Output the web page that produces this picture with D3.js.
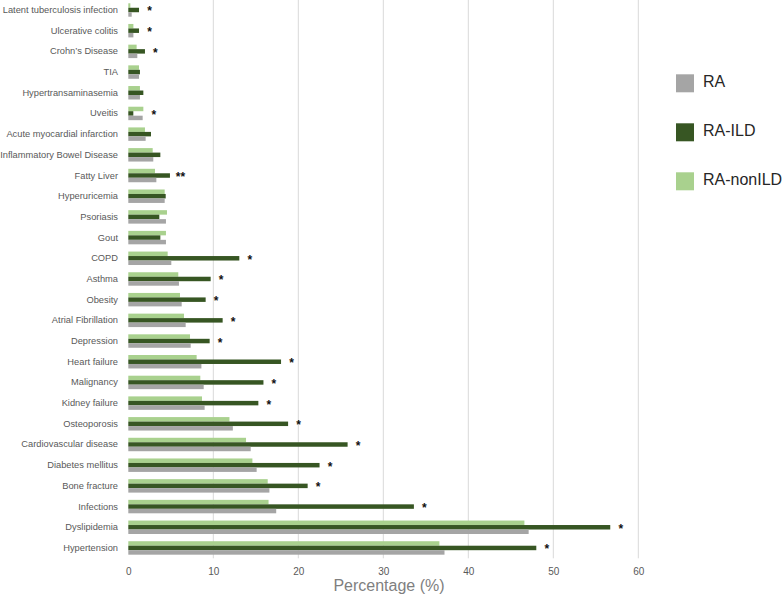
<!DOCTYPE html>
<html>
<head>
<meta charset="utf-8">
<script src="https://cdn.jsdelivr.net/npm/d3@7"></script>
<style>
  body { margin: 0; background: #fff; }
  svg { display: block; font-family: "Liberation Sans", Arial, sans-serif; }
</style>
</head>
<body>
<div id="chart"></div>
<script>
// categories, top to bottom
const categories = [
  "Latent tuberculosis infection", "Ulcerative colitis", "Crohn\u2019s Disease", "TIA",
  "Hypertransaminasemia", "Uveitis", "Acute myocardial infarction", "Inflammatory Bowel Disease",
  "Fatty Liver", "Hyperuricemia", "Psoriasis", "Gout", "COPD", "Asthma", "Obesity",
  "Atrial Fibrillation", "Depression", "Heart failure", "Malignancy", "Kidney failure",
  "Osteoporosis", "Cardiovascular disease", "Diabetes mellitus", "Bone fracture",
  "Infections", "Dyslipidemia", "Hypertension"
];
const ra = [0.4, 0.6, 1.06, 1.26, 1.37, 1.69, 2.04, 2.94, 3.3, 4.28, 4.43, 4.43, 5.06, 5.96, 6.28,
  6.75, 7.34, 8.6, 8.87, 8.98, 12.3, 14.4, 15.1, 16.6, 17.4, 47.1, 37.2];
const raIld = [1.26, 1.26, 1.96, 1.37, 1.77, 0.59, 2.67, 3.77, 4.9, 4.4, 3.65, 3.77, 13.06, 9.69, 9.1,
  11.1, 9.57, 17.97, 15.9, 15.3, 18.8, 25.8, 22.5, 21.1, 33.6, 56.7, 48.0];
const raNonIld = [0.24, 0.6, 0.98, 1.26, 1.37, 1.77, 1.96, 2.87, 3.14, 4.28, 4.55, 4.43, 4.63, 5.88, 6.08,
  6.55, 7.26, 8.04, 8.47, 8.67, 11.9, 13.85, 14.6, 16.4, 16.5, 46.6, 36.6];
const signif = ["*", "*", "*", "", "", "*", "", "", "**", "", "", "", "*", "*", "*",
  "*", "*", "*", "*", "*", "*", "*", "*", "*", "*", "*", "*"];
const xTicks = [0, 10, 20, 30, 40, 50, 60];

// drawn top to bottom inside each group
const series = [
  {name: "RA-nonILD", values: raNonIld, color: "#a9d18e"},
  {name: "RA-ILD", values: raIld, color: "#375623"},
  {name: "RA", values: ra, color: "#a5a5a5"}
];
const legendOrder = ["RA", "RA-ILD", "RA-nonILD"];

const W = 782, H = 596;
const margin = {left: 128.3, top: -0.35};
const plotW = 510, plotH = 558.65;

const svg = d3.select("#chart").append("svg")
  .attr("width", W).attr("height", H);

const g = svg.append("g")
  .attr("transform", "translate(" + margin.left + "," + margin.top + ")");

const x = d3.scaleLinear().domain([0, 60]).range([0, plotW]);

const y0 = d3.scaleBand()
  .domain(categories)
  .range([0, plotH])
  .paddingInner(0.35)
  .paddingOuter(0.175);

const y1 = d3.scaleBand()
  .domain(series.map(s => s.name))
  .range([0, y0.bandwidth()]);

// gridlines
g.append("g")
  .selectAll("line")
  .data(xTicks.filter(t => t > 0))
  .enter().append("line")
  .attr("x1", d => x(d)).attr("x2", d => x(d))
  .attr("y1", 0).attr("y2", plotH)
  .attr("stroke", "#d9d9d9")
  .attr("stroke-width", 1);

// bars
const groups = g.append("g")
  .selectAll("g")
  .data(categories)
  .enter().append("g")
  .attr("transform", d => "translate(0," + y0(d) + ")");

groups.selectAll("rect")
  .data((d, i) => series.map(s => ({key: s.name, value: s.values[i], color: s.color})))
  .enter().append("rect")
  .attr("x", 0)
  .attr("y", d => y1(d.key))
  .attr("width", d => x(d.value))
  .attr("height", y1.bandwidth())
  .attr("fill", d => d.color);

// significance marks
groups.append("text")
  .attr("x", (d, i) => x(Math.max(ra[i], raIld[i], raNonIld[i])) + 10.5)
  .attr("y", y0.bandwidth() / 2 + 5.5)
  .attr("text-anchor", "middle")
  .attr("font-size", "12px")
  .attr("font-weight", "bold")
  .attr("fill", "#111")
  .text((d, i) => signif[i]);

// x axis
const xAxis = g.append("g")
  .attr("transform", "translate(0," + plotH + ")")
  .call(d3.axisBottom(x).tickValues(xTicks).tickSize(0).tickPadding(10));
xAxis.select(".domain").remove();
xAxis.selectAll("text")
  .attr("font-size", "10px")
  .attr("font-family", "Liberation Sans, Arial, sans-serif")
  .attr("fill", "#595959");

// y axis
const yAxis = g.append("g")
  .call(d3.axisLeft(y0).tickSize(0).tickPadding(10.3));
yAxis.select(".domain").remove();
yAxis.selectAll("text")
  .attr("font-size", "9.3px")
  .attr("font-family", "Liberation Sans, Arial, sans-serif")
  .attr("fill", "#595959");

// axis title
svg.append("text")
  .attr("x", 389)
  .attr("y", 591)
  .attr("text-anchor", "middle")
  .attr("font-size", "16px")
  .attr("fill", "#7f7f7f")
  .text("Percentage (%)");

// legend
const legend = svg.append("g")
  .selectAll("g")
  .data(legendOrder)
  .enter().append("g")
  .attr("transform", (d, i) => "translate(676," + (74.3 + i * 49) + ")");

legend.append("rect")
  .attr("width", 18).attr("height", 18)
  .attr("fill", d => series.find(s => s.name === d).color);

legend.append("text")
  .attr("x", 27)
  .attr("y", 12.6)
  .attr("font-size", "16px")
  .attr("fill", "#262626")
  .text(d => d);
</script>
</body>
</html>
